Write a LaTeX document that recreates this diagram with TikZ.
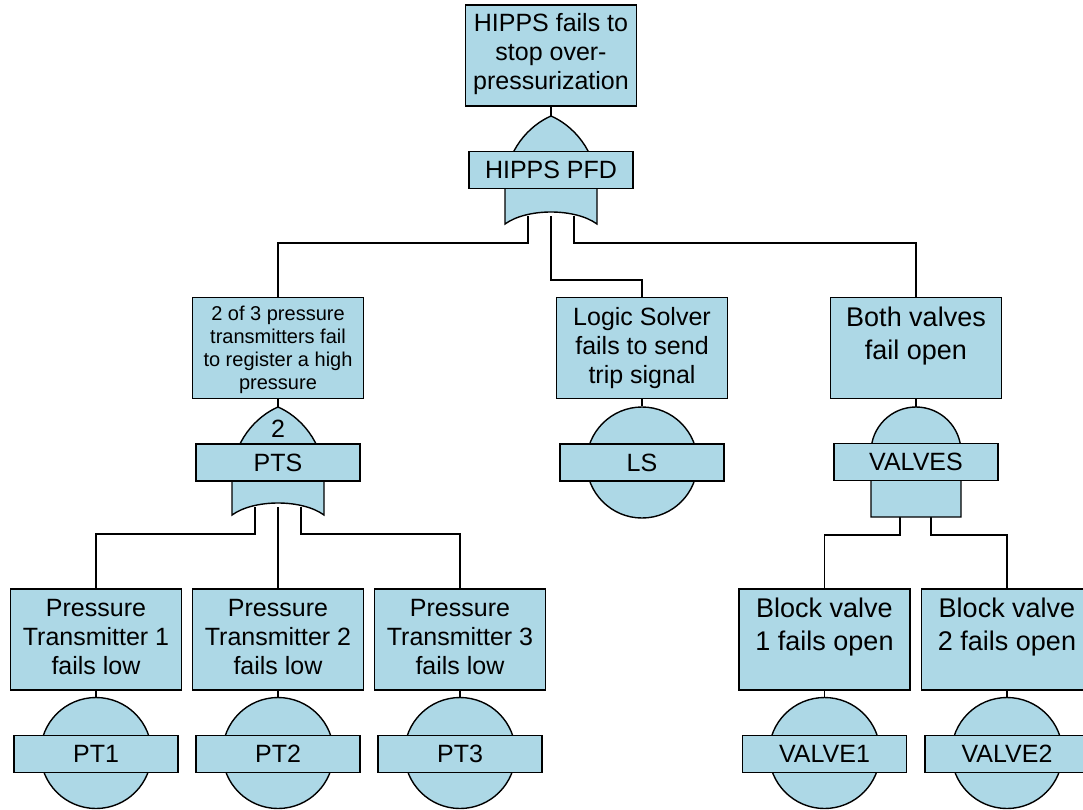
\documentclass[tikz,border=0pt]{standalone}
\usepackage{fontspec}
\setmainfont{Liberation Sans}
\usetikzlibrary{calc,backgrounds}
\definecolor{ftblue}{RGB}{173,216,230}
\begin{document}
\begin{tikzpicture}[x=1pt,y=-1pt,
  shapebase/.style={draw=black, fill=ftblue, line width=1.4pt},
  evbox/.style={shapebase, rectangle, minimum width=171pt, minimum height=101pt, inner sep=0pt},
  gatetag/.style={shapebase, rectangle, minimum width=164pt, minimum height=37pt, inner sep=0pt,
    font=\fontsize{25}{29}\selectfont},
  basicev/.style={shapebase, circle, minimum size=111pt, inner sep=0pt},
  % multi-line text is placed by the baseline of its last line
  evtext/.style={anchor=base, align=center, inner sep=0pt, font=\fontsize{25}{29}\selectfont},
  bigtext/.style={evtext, font=\fontsize{27}{33}\selectfont},
  wire/.style={draw=black, line width=1.3pt},
  % OR gate, origin at the apex
  orgate/.pic={
    \path[shapebase] (-46,108) -- (-46,72) .. controls (-46,34) and (-21,9) .. (0,0)
      .. controls (21,9) and (46,34) .. (46,72) -- (46,108)
      .. controls (24,92) and (-24,92) .. cycle;
    \coordinate (-apex) at (0,0);
    \coordinate (-L) at (-23,100);  \coordinate (-Lb) at (-23,127);
    \coordinate (-C) at (0,100);    \coordinate (-Cb) at (0,164);
    \coordinate (-R) at (23,100);   \coordinate (-Rb) at (23,127);
  },
  % AND gate, origin at the apex
  andgate/.pic={
    \path[shapebase] (-45,110) -- (-45,45) .. controls (-45,20.15) and (-24.85,0) .. (0,0)
      .. controls (24.85,0) and (45,20.15) .. (45,45) -- (45,110) -- cycle;
    \coordinate (-apex) at (0,0);
    \coordinate (-L) at (-16,100);  \coordinate (-Lb) at (-16,128);
    \coordinate (-R) at (15,100);   \coordinate (-Rb) at (15,128);
  }]

\useasboundingbox (0,0) rectangle (1083,809);

% ---- top event ----
\node[evbox] (top) at (551,55.5) {};
\node[evtext] (top-t) at (551,89) {HIPPS fails to\\stop over-\\pressurization};
\pic (g1) at (551,116) {orgate};
\node[gatetag] (g1-tag) at (551,170) {HIPPS PFD};

% ---- transmitters branch ----
\node[evbox] (pts) at (278,348) {};
\node[evtext, font=\fontsize{20}{23}\selectfont] (pts-t) at (278,389)
  {2 of 3 pressure\\transmitters fail\\to register a high\\pressure};
\pic (g2) at (278,407) {orgate};
\node[gatetag] (g2-tag) at (278,462.5) {PTS};
\node[evtext] (g2-k) at (278,437) {2};

% ---- logic solver ----
\node[evbox] (ls) at (642,348) {};
\node[evtext] (ls-t) at (642,383) {Logic Solver\\fails to send\\trip signal};
\node[basicev] (ls-e) at (642,462.5) {};
\node[gatetag] (ls-tag) at (642,462.5) {LS};

% ---- valves branch ----
\node[evbox] (bv) at (916,348) {};
\node[bigtext] (bv-t) at (916,359) {Both valves\\fail open};
\pic (g3) at (916,407) {andgate};
\node[gatetag] (g3-tag) at (916,462) {VALVES};

% ---- basic events, bottom row ----
\foreach \n/\x/\k in {pt1/96/1, pt2/278/2, pt3/460/3}{
  \node[evbox] (\n) at (\x,639.5) {};
  \node[evtext] (\n-t) at (\x,674) {Pressure\\Transmitter \k\\fails low};
  \node[basicev] (\n-e) at (\x,753) {};
  \node[gatetag] (\n-tag) at (\x,754) {PT\k};
}
\foreach \n/\x/\k in {bv1/824.5/1, bv2/1007/2}{
  \node[evbox] (\n) at (\x,639.5) {};
  \node[bigtext] (\n-t) at (\x,650) {Block valve\\\k{} fails open};
  \node[basicev] (\n-e) at (\x,753) {};
  \node[gatetag] (\n-tag) at (\x,754) {VALVE\k};
}

% ---- connectors ----
\begin{scope}[on background layer]
  \draw[wire] (top.south) -- (g1-apex);
  \draw[wire] (g1-L) -- (g1-Lb) -| (pts.north);
  \draw[wire] (g1-C) -- (g1-Cb) -| (ls.north);
  \draw[wire] (g1-R) -- (g1-Rb) -| (bv.north);
  \draw[wire] (pts.south) -- (g2-apex);
  \draw[wire] (g2-L) -- (g2-Lb) -| (pt1.north);
  \draw[wire] (g2-C) -- (pt2.north);
  \draw[wire] (g2-R) -- (g2-Rb) -| (pt3.north);
  \draw[wire] (ls.south) -- (ls-e.north);
  \draw[wire] (bv.south) -- (g3-apex);
  \draw[wire] (g3-L) -- (g3-Lb) -| (bv1.north);
  \draw[wire] (g3-R) -- (g3-Rb) -| (bv2.north);
  \foreach \n in {pt1,pt2,pt3,bv1,bv2}
    \draw[wire] (\n.south) -- (\n-e.north);
\end{scope}
\end{tikzpicture}
\end{document}
